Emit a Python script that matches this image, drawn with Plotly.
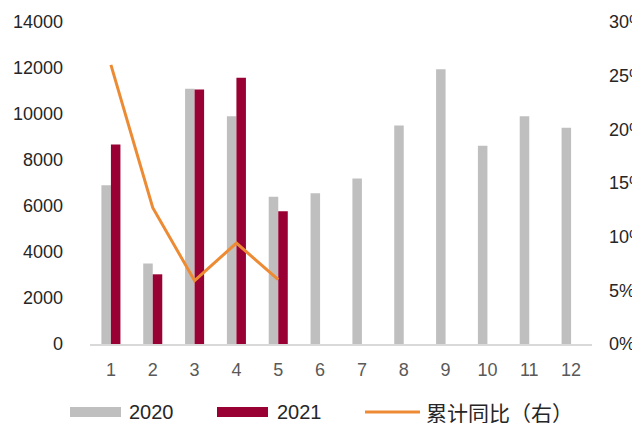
import plotly.graph_objects as go

months = ["1", "2", "3", "4", "5", "6", "7", "8", "9", "10", "11", "12"]
sales_2020 = [6900, 3500, 11100, 9900, 6400, 6550, 7200, 9500, 11950, 8620, 9900, 9400]
sales_2021 = [8670, 3030, 11070, 11580, 5770, None, None, None, None, None, None, None]
yoy_cum = [0.260, 0.127, 0.059, 0.094, 0.060]
yoy_months = months[:5]

C2020 = "#bfbfbf"
C2021 = "#990033"
CLINE = "#ed8b34"

W, H = 632, 423
L, R, T, B = 90, 40, 22, 79
PW, PH = W - L - R, H - T - B

def px(x):
    return (x - L) / PW

def py(y):
    return (H - B - y) / PH

fig = go.Figure()
fig.add_trace(go.Bar(x=months, y=sales_2020, name="2020", marker_color=C2020, marker_line_width=0))
fig.add_trace(go.Bar(x=months, y=sales_2021, name="2021", marker_color=C2021, marker_line_width=0))
fig.add_trace(go.Scatter(x=yoy_months, y=yoy_cum, name="累计同比（右）", mode="lines",
                         line=dict(color=CLINE, width=3), yaxis="y2"))

font = "Liberation Sans, Arial, sans-serif"
fig.update_layout(
    width=W, height=H,
    margin=dict(l=L, r=R, t=T, b=B, pad=0, autoexpand=False),
    paper_bgcolor="white", plot_bgcolor="white",
    barmode="group", bargap=0.545, bargroupgap=0,
    showlegend=False,
    font=dict(family=font),
    xaxis=dict(type="category", showgrid=False, zeroline=False, showline=True,
               linecolor="#d9d9d9", linewidth=2, ticks="", automargin=False,
               ticklabelstandoff=8,
               tickfont=dict(size=18, color="#595959", family=font)),
    yaxis=dict(range=[0, 14000], dtick=2000, showgrid=False, zeroline=False,
               showline=False, ticks="", tickformat="d", ticklabelstandoff=26,
               automargin=False,
               tickfont=dict(size=18, color="#262626", family=font)),
    yaxis2=dict(range=[0, 0.30], dtick=0.05, tickformat=".0%", overlaying="y", side="right",
                showgrid=False, zeroline=False, showline=False, ticks="", ticklabelstandoff=16,
                automargin=False,
                tickfont=dict(size=18, color="#262626", family=font)),
)

# custom legend
legend_y = 412
shapes = [
    dict(type="rect", xref="paper", yref="paper", x0=px(70), x1=px(121),
         y0=py(417), y1=py(407), fillcolor=C2020, line_width=0),
    dict(type="rect", xref="paper", yref="paper", x0=px(217), x1=px(268),
         y0=py(417), y1=py(407), fillcolor=C2021, line_width=0),
    dict(type="line", xref="paper", yref="paper", x0=px(365), x1=px(420),
         y0=py(legend_y), y1=py(legend_y), line=dict(color=CLINE, width=3)),
]
labels = [(127, "2020", 20), (275, "2021", 20), (424, "累计同比（右）", 21)]
annotations = []
for xpos, text, size in labels:
    annotations.append(dict(
        xref="paper", yref="paper", x=px(xpos), y=py(legend_y), text=text,
        showarrow=False, xanchor="left", yanchor="middle",
        font=dict(size=size, color="#262626",
                  family=("Noto Sans CJK SC" if not text.isdigit() else font))))
fig.update_layout(shapes=shapes, annotations=annotations)

fig.write_html("out.html",
               config={"displayModeBar": False},
               post_script="document.body.style.margin='0';document.body.style.overflow='hidden';")
